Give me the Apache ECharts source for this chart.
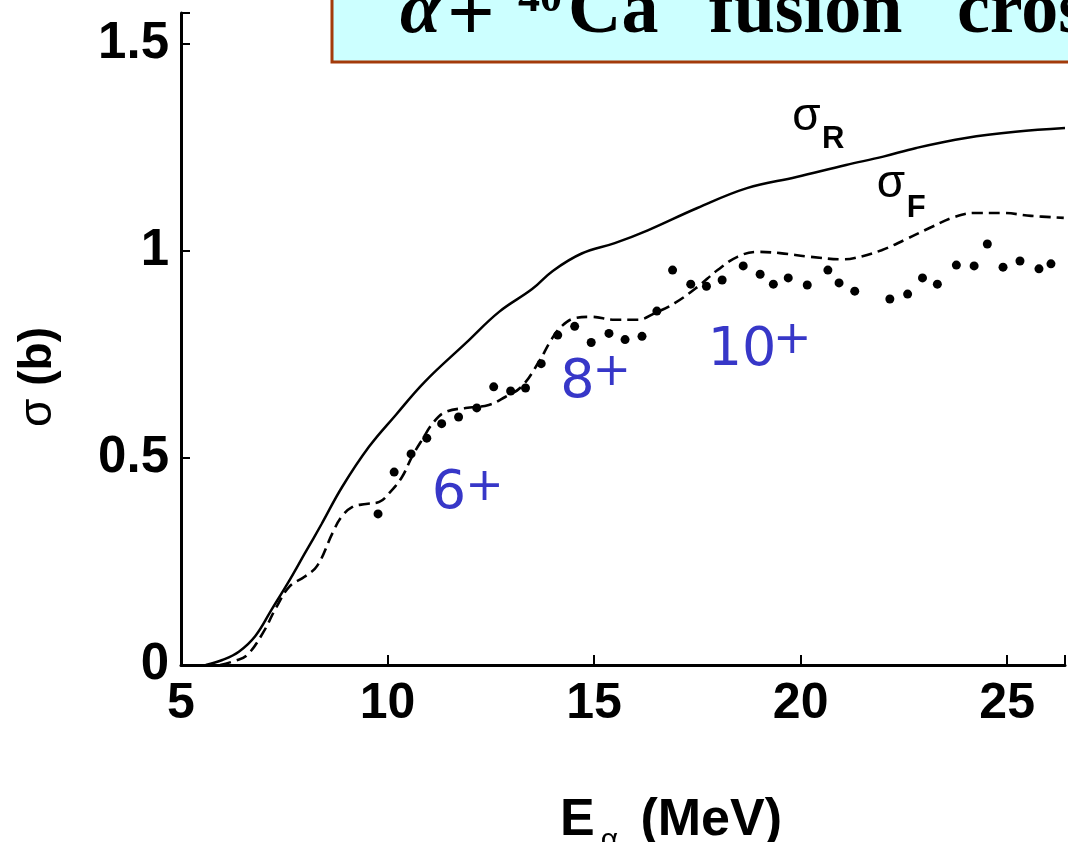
<!DOCTYPE html>
<html>
<head>
<meta charset="utf-8">
<style>
html,body{margin:0;padding:0;background:#fff;}
#c{width:1068px;height:842px;}
</style>
<script src="https://cdn.jsdelivr.net/npm/echarts@6/dist/echarts.min.js"></script>
</head>
<body>
<div id="c"></div>
<script>
// ---- data (E in MeV, sigma in barn) ----
var sigmaR = [[5.6,0],[6.0,0.012],[6.4,0.032],[6.8,0.07],[7.2,0.135],[7.6,0.2],[8.0,0.27],[8.4,0.34],[8.9,0.43],[9.55,0.527],[10.2,0.604],[10.9,0.684],[11.9,0.778],[12.7,0.853],[13.5,0.908],[14.0,0.952],[14.7,0.994],[15.5,1.019],[16.3,1.05],[17.5,1.104],[18.7,1.152],[19.9,1.179],[21.1,1.208],[22.0,1.228],[22.8,1.249],[24.0,1.273],[25.2,1.288],[26.4,1.297]];
var sigmaF = [[5.95,0],[6.3,0.01],[6.6,0.024],[6.98,0.077],[7.31,0.14],[7.63,0.19],[7.99,0.213],[8.3,0.24],[8.67,0.319],[8.88,0.357],[9.15,0.382],[9.48,0.389],[9.8,0.394],[10.04,0.415],[10.35,0.454],[10.59,0.503],[10.83,0.543],[11.12,0.587],[11.4,0.611],[11.89,0.621],[12.45,0.628],[12.86,0.648],[13.24,0.672],[13.65,0.73],[13.96,0.785],[14.2,0.817],[14.54,0.838],[14.93,0.841],[15.5,0.834],[16.06,0.834],[16.47,0.85],[16.95,0.874],[17.5,0.913],[17.99,0.954],[18.47,0.986],[18.95,0.998],[19.5,0.995],[20.23,0.986],[21.05,0.98],[21.31,0.983],[21.96,1.002],[22.52,1.027],[23.17,1.058],[23.72,1.082],[24.2,1.092],[24.86,1.092],[25.58,1.085],[26.37,1.08]];
var expData = [[9.77,0.365],[10.16,0.466],[10.57,0.51],[10.95,0.548],[11.31,0.583],[11.72,0.599],[12.16,0.621],[12.57,0.672],[12.98,0.662],[13.34,0.669],[13.72,0.728],[14.12,0.797],[14.53,0.818],[14.93,0.779],[15.36,0.801],[15.75,0.786],[16.16,0.794],[16.52,0.855],[16.9,0.954],[17.34,0.92],[17.72,0.915],[18.1,0.93],[18.61,0.964],[19.02,0.944],[19.34,0.92],[19.7,0.935],[20.16,0.918],[20.66,0.954],[20.93,0.923],[21.31,0.903],[22.16,0.884],[22.59,0.896],[22.95,0.935],[23.31,0.92],[23.77,0.966],[24.2,0.964],[24.52,1.017],[24.9,0.961],[25.31,0.976],[25.77,0.957],[26.06,0.969]];
var xTicks = [5, 10, 15, 20, 25];
var yTicks = [0, 0.5, 1, 1.5];
// spin annotations: [digits, E, sigma (left/baseline of digits), E, sigma (centre of plus)]
var spinLabels = [["6", 11.07, 0.367, 12.35, 0.428], ["8", 14.18, 0.635, 15.43, 0.705], ["10", 17.75, 0.713, 19.8, 0.783]];
// curve annotations: [subscript, E, sigma (sigma glyph left/baseline), E, sigma (subscript left/baseline)]
var curveLabels = [["R", 19.8, 1.285, 20.52, 1.244], ["F", 21.84, 1.123, 22.57, 1.077]];

var chart = echarts.init(document.getElementById('c'), null, {renderer: 'canvas'});
var axisFont = '"Liberation Sans", Arial, sans-serif';
var option = {
  animation: false,
  backgroundColor: '#ffffff',
  grid: {left: 181, top: 13, width: 887, height: 652, containLabel: false},
  xAxis: {
    type: 'value', min: 5, max: 26.4, interval: 5,
    axisLine: {show: true, onZero: false, lineStyle: {color: '#000', width: 3}},
    axisTick: {show: true, inside: true, length: 10, lineStyle: {color: '#000', width: 2}},
    splitLine: {show: false},
    axisLabel: {
      margin: 14, color: '#000', fontFamily: axisFont, fontWeight: 'bold', fontSize: 50,
      formatter: function (v) { return xTicks.indexOf(v) >= 0 ? String(v) : ''; }
    }
  },
  yAxis: {
    type: 'value', min: 0, max: 1.575, interval: 0.5,
    axisLine: {show: true, lineStyle: {color: '#000', width: 3}},
    axisTick: {show: true, inside: true, length: 9, lineStyle: {color: '#000', width: 2}},
    splitLine: {show: false},
    axisLabel: {
      margin: 12, color: '#000', fontFamily: axisFont, fontWeight: 'bold', fontSize: 51,
      formatter: function (v) { return yTicks.indexOf(v) >= 0 ? String(v) : ''; }
    }
  },
  series: [
    {name: 'sigmaR', type: 'line', data: sigmaR, smooth: 0.4, symbol: 'none',
     lineStyle: {color: '#000', width: 2.5}},
    {name: 'sigmaF', type: 'line', data: sigmaF, smooth: 0.4, symbol: 'none',
     lineStyle: {color: '#000', width: 2.6, type: [11, 6]}},
    {name: 'exp', type: 'scatter', data: expData, symbol: 'circle', symbolSize: 9,
     itemStyle: {color: '#000', opacity: 1}}
  ]
};
chart.setOption(option);

function px(e, s) { return chart.convertToPixel({gridIndex: 0}, [e, s]); }
var g = [];
// title box
var serif = '"Liberation Serif", "Times New Roman", serif';
g.push({type: 'rect', shape: {x: 332, y: -20, width: 900, height: 82},
  style: {fill: '#CCFFFF', stroke: '#A33A0A', lineWidth: 3}, z: 10});
function t(x, y, text, font, size, weight, extra) {
  var o = {type: 'text', x: x, y: y, z: 11,
    style: {text: text, fill: '#000', font: (weight || 'normal') + ' ' + size + 'px ' + font,
      align: 'left', verticalAlign: 'middle'}};
  if (extra) for (var k in extra) o.style[k] = extra[k];
  return o;
}
var base = 38;
g.push(t(400, base - 0.34 * 74, 'α', serif, 74, 'italic bold'));
g.push(t(447, 18, '+', serif, 84, 'bold'));
g.push(t(518, 15 - 0.34 * 44, '40', serif, 44, 'bold'));
g.push(t(568, base - 0.34 * 74, 'Ca', serif, 74, 'bold'));
g.push(t(709, base - 0.34 * 74, 'fusion', serif, 74, 'bold'));
g.push(t(957, base - 0.34 * 74, 'cross section', serif, 74, 'bold'));

// spin labels
var dv = '"DejaVu Sans", Verdana, sans-serif';
spinLabels.forEach(function (L) {
  var p = px(L[1], L[2]);
  g.push(t(p[0], p[1] - 0.346 * 54, L[0], dv, 54, 'normal', {fill: '#3737C8'}));
  var q = px(L[3], L[4]);
  g.push({type: 'text', x: q[0], y: q[1], z: 11,
    style: {text: '+', fill: '#3737C8', font: 'normal 46px ' + dv, align: 'center', verticalAlign: 'middle'}});
});
// curve labels sigma_R, sigma_F
curveLabels.forEach(function (L) {
  var p = px(L[1], L[2]);
  g.push(t(p[0], p[1] - 0.347 * 46, 'σ', axisFont, 46, 'normal'));
  var q = px(L[3], L[4]);
  g.push(t(q[0], q[1] - 0.347 * 31, L[0], axisFont, 31, 'bold'));
});
// axis titles
g.push({type: 'text', x: 560, y: 839 - 0.347 * 52, z: 11,
  style: {text: '{b|E}{s|α}{b| (MeV)}', align: 'left', verticalAlign: 'middle', fill: '#000',
    rich: {b: {fontFamily: axisFont, fontWeight: 'bold', fontSize: 52, fill: '#000', lineHeight: 60},
           s: {fontFamily: axisFont, fontWeight: 'normal', fontSize: 30, fill: '#000', padding: [40, 8, 0, 6], lineHeight: 60}}}});
g.push({type: 'text', x: 38, y: 377, rotation: Math.PI / 2, z: 11,
  style: {text: '{n|σ}{b| (b)}', align: 'center', verticalAlign: 'middle', fill: '#000',
    rich: {b: {fontFamily: axisFont, fontWeight: 'bold', fontSize: 46, fill: '#000'},
           n: {fontFamily: axisFont, fontWeight: 'normal', fontSize: 46, fill: '#000'}}}});
chart.setOption({graphic: g});
</script>
</body>
</html>
